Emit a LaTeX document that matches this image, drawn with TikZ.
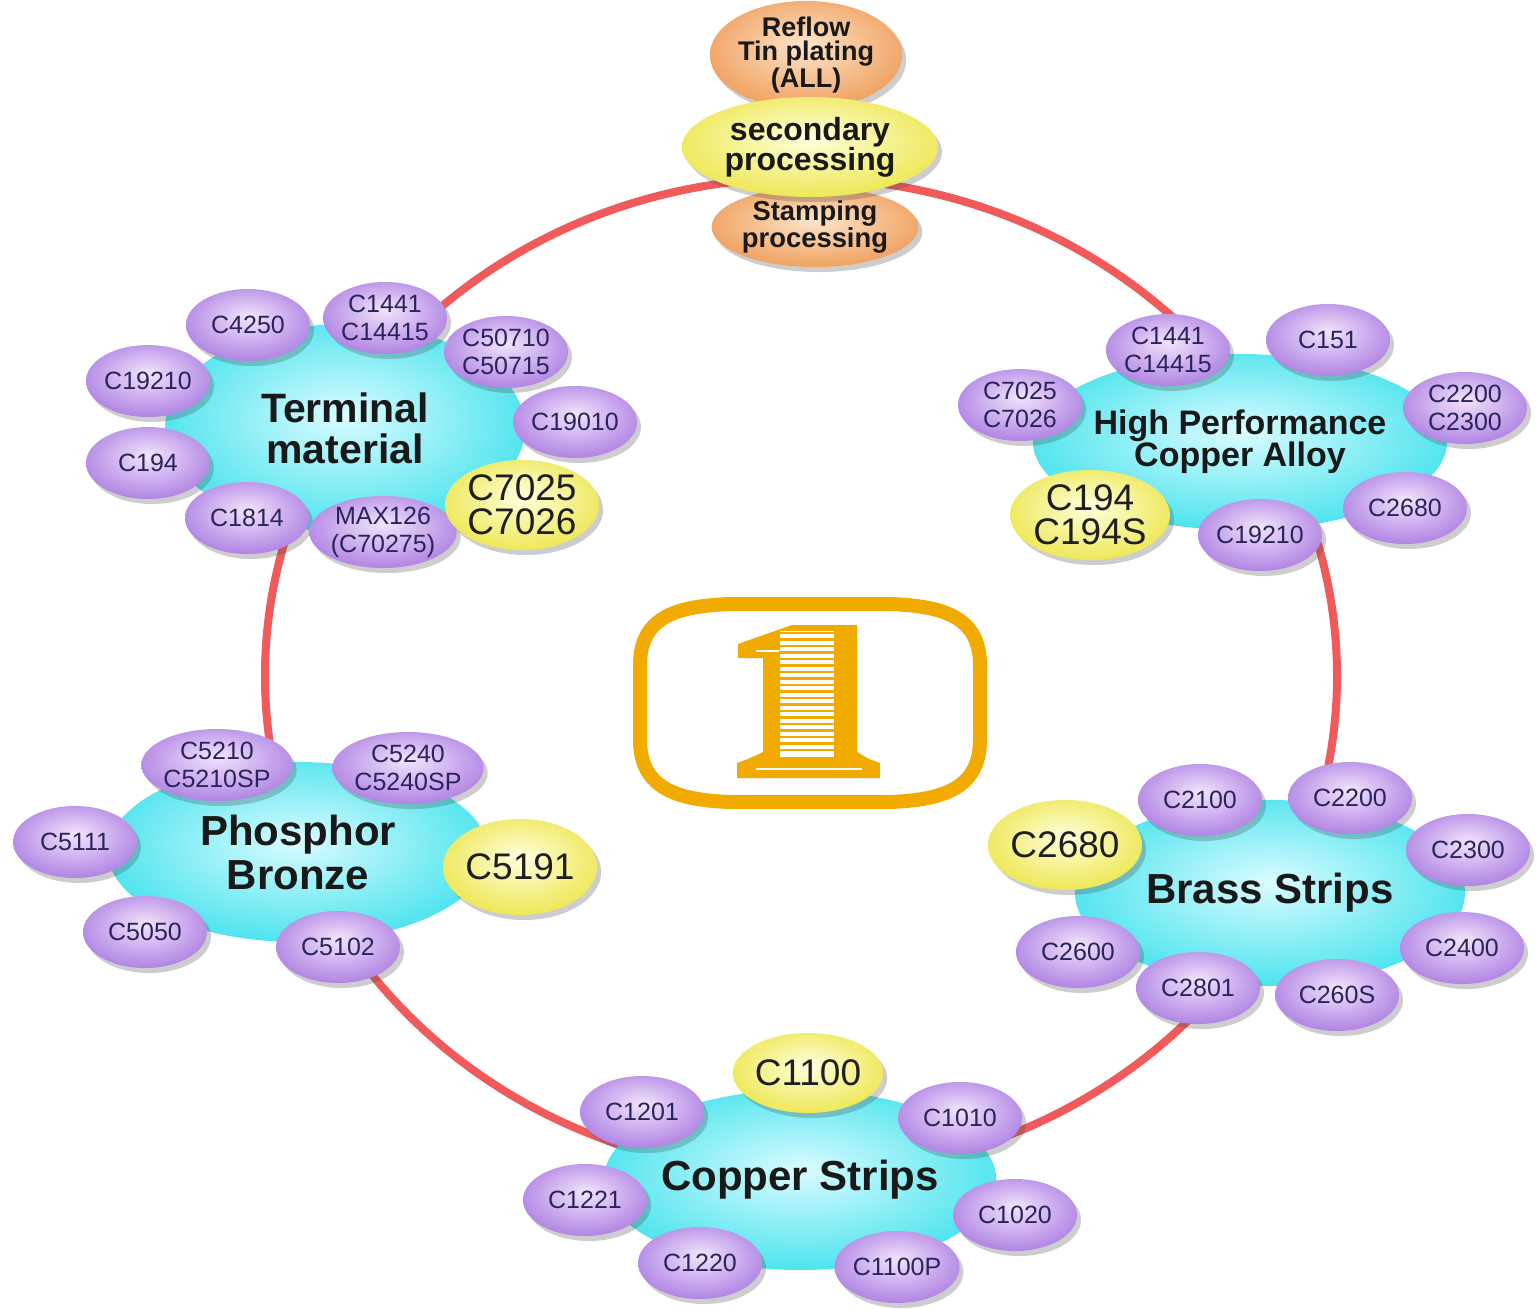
\documentclass[tikz,border=0pt]{standalone}
\usepackage{fontspec}
\setmainfont{Liberation Sans}
\usetikzlibrary{shapes.geometric,shadows}
\definecolor{ringred}{RGB}{240,90,90}
\definecolor{amber}{RGB}{240,170,0}
\definecolor{navy}{RGB}{42,36,92}
\definecolor{purpin}{RGB}{242,228,252}
\definecolor{purpout}{RGB}{178,135,228}
\definecolor{cyin}{RGB}{218,252,255}
\definecolor{cyout}{RGB}{80,228,238}
\definecolor{yelin}{RGB}{255,255,222}
\definecolor{yelout}{RGB}{238,232,88}
\definecolor{orin}{RGB}{253,230,204}
\definecolor{orout}{RGB}{240,162,98}
\pgfdeclareradialshading{purpsh}{\pgfpoint{0bp}{6bp}}{color(0bp)=(purpin); color(27bp)=(purpout); color(50bp)=(purpout)}
\pgfdeclareradialshading{cysh}{\pgfpoint{0bp}{3bp}}{color(0bp)=(cyin); color(26bp)=(cyout); color(50bp)=(cyout)}
\pgfdeclareradialshading{yelsh}{\pgfpoint{0bp}{5bp}}{color(0bp)=(yelin); color(27bp)=(yelout); color(50bp)=(yelout)}
\pgfdeclareradialshading{orsh}{\pgfpoint{0bp}{5bp}}{color(0bp)=(orin); color(27bp)=(orout); color(50bp)=(orout)}
\begin{document}
\begin{tikzpicture}[x=0.5pt,y=-0.5pt,
  base/.style={ellipse, inner sep=0pt, align=center,
    drop shadow={shadow xshift=2pt,shadow yshift=-2.5pt,opacity=0.28,fill=black!70}},
  pnode/.style={base, minimum width=62pt, minimum height=36pt, shading=purpsh,
    text=navy, font=\fontsize{12.5}{14}\selectfont},
  ynode/.style={base, minimum width=72pt, minimum height=45pt, shading=yelsh,
    text=black!88, font=\fontsize{18.5}{17}\selectfont},
  cnode/.style={ellipse, inner sep=0pt, align=center, shading=cysh,
    text=black!90, font=\bfseries\fontsize{21}{22}\selectfont},
  onode/.style={base, shading=orsh, text=black!90},
]
\useasboundingbox (0,0) rectangle (1536,1308);
\fill[white] (0,0) rectangle (1536,1308);

% ring
\draw[ringred, line width=4pt] (801,676) ellipse [x radius=536, y radius=498];

% top process nodes
\node[onode, minimum width=86pt, minimum height=46pt, font=\bfseries\fontsize{13.5}{12}\selectfont] (reflow) at (806,55) {Reflow\\Tin plating\\(ALL)};
\node[onode, minimum width=78pt, minimum height=40pt, font=\bfseries\fontsize{13.7}{12.5}\selectfont] (stamp) at (815,227) {Stamping\\processing};
\node[base, shading=yelsh, minimum width=128pt, minimum height=50pt, text=black!90, font=\bfseries\fontsize{16}{15}\selectfont] (second) at (810,147) {secondary\\processing};

% emblem
\draw[amber, line width=7pt] (640,700) -- (640,665) .. controls (640,615) and (680,606) .. (730,604) -- (890,604) .. controls (940,606) and (980,615) .. (980,665) -- (980,740) .. controls (980,790) and (940,800) .. (890,802) -- (730,802) .. controls (680,800) and (640,790) .. (640,740) -- cycle;
\fill[amber] (857,625) -- (792,625) .. controls (772,632) and (752,639) .. (738,644) -- (738,658) -- (763,658) -- (763,752) -- (748,759) -- (737,763) -- (737,778) -- (880,778) -- (880,763) -- (869,759) -- (857,752) -- cycle;
\fill[white] (780,631) rectangle (834,757);
\foreach \yy in {633,639.5,...,756} \draw[amber, line width=1.4pt] (780,\yy) -- (834,\yy);
\draw[white, line width=1.1pt] (756,651) -- (779,651);
\draw[white, line width=1.1pt] (756,769) -- (862,769);

% Terminal material
\node[cnode, minimum width=180pt, minimum height=104pt, font=\bfseries\fontsize{20.5}{20.5}\selectfont] (term) at (345,428) {Terminal\\material};
\node[pnode] (t1) at (248,325) {C4250};
\node[pnode] (t2) at (385,318) {C1441\\C14415};
\node[pnode] (t3) at (506,352) {C50710\\C50715};
\node[pnode] (t4) at (148,381) {C19210};
\node[pnode] (t5) at (575,422) {C19010};
\node[pnode] (t6) at (148,463) {C194};
\node[pnode] (t8) at (247,518) {C1814};
\node[pnode, minimum width=60pt] (t9) at (383,532) {MAX126\\(C70275)};
\node[ynode, minimum width=71pt, minimum height=45pt] (t7) at (522,505) {C7025\\C7026};

% High Performance Copper Alloy
\node[cnode, minimum width=195pt, minimum height=88pt, font=\bfseries\fontsize{17}{16}\selectfont] (hpca) at (1240,442) {High Performance\\Copper Alloy};
\node[pnode] (h1) at (1168,350) {C1441\\C14415};
\node[pnode] (h2) at (1328,340) {C151};
\node[pnode] (h3) at (1020,405) {C7025\\C7026};
\node[pnode] (h4) at (1465,408) {C2200\\C2300};
\node[pnode] (h6) at (1260,535) {C19210};
\node[pnode] (h7) at (1405,508) {C2680};
\node[ynode, minimum width=72pt, minimum height=45pt] (h5) at (1090,515) {C194\\C194S};

% Phosphor Bronze
\node[cnode, minimum width=190pt, minimum height=90pt] (phos) at (298,852) {Phosphor\\Bronze};
\node[pnode] (p1) at (217,765) {C5210\\C5210SP};
\node[pnode] (p2) at (408,768) {C5240\\C5240SP};
\node[pnode] (p3) at (75,842) {C5111};
\node[pnode] (p5) at (145,932) {C5050};
\node[pnode] (p6) at (338,947) {C5102};
\node[ynode, minimum width=73pt, minimum height=48pt] (p4) at (520,867) {C5191};

% Brass Strips
\node[cnode, minimum width=195pt, minimum height=93pt] (brass) at (1270,893) {Brass Strips};
\node[pnode] (b2) at (1200,800) {C2100};
\node[pnode] (b3) at (1350,798) {C2200};
\node[pnode] (b4) at (1468,850) {C2300};
\node[pnode] (b5) at (1078,952) {C2600};
\node[pnode] (b6) at (1462,948) {C2400};
\node[pnode] (b7) at (1198,988) {C2801};
\node[pnode] (b8) at (1337,995) {C260S};
\node[ynode, minimum width=75pt, minimum height=45pt] (b1) at (1065,845) {C2680};

% Copper Strips
\node[cnode, minimum width=195pt, minimum height=90pt] (copper) at (800,1180) {Copper Strips};
\node[pnode] (c2) at (642,1112) {C1201};
\node[pnode] (c3) at (960,1118) {C1010};
\node[pnode] (c4) at (585,1200) {C1221};
\node[pnode] (c5) at (1015,1215) {C1020};
\node[pnode] (c6) at (700,1263) {C1220};
\node[pnode] (c7) at (897,1267) {C1100P};
\node[ynode, minimum width=72pt, minimum height=40pt] (c1) at (808,1073) {C1100};
\end{tikzpicture}
\end{document}
